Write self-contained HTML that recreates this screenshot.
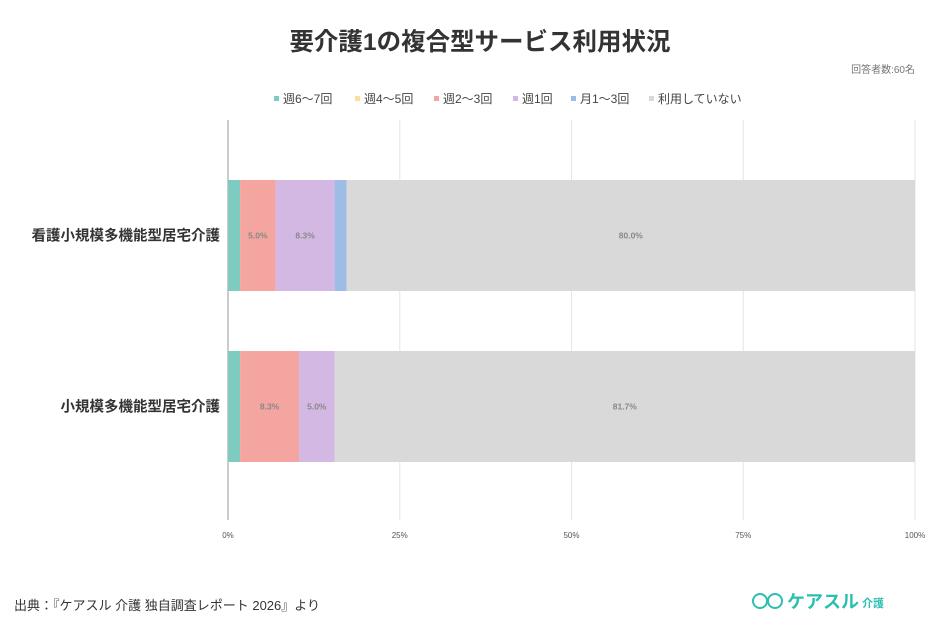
<!DOCTYPE html>
<html><head><meta charset="utf-8"><style>
body{margin:0;background:#fff;width:944px;height:627px;overflow:hidden;font-family:"Liberation Sans","Noto Sans CJK JP",sans-serif;}
svg text{font-family:"Liberation Sans","Noto Sans CJK JP",sans-serif;}
</style></head><body>
<svg id="c" width="944" height="627">
<text x="480" y="50" text-anchor="middle" font-size="24.5" font-weight="bold" fill="#333">要介護1の複合型サービス利用状況</text>
<text x="915" y="73" text-anchor="end" font-size="10" fill="#777">回答者数:60名</text>
<g id="legend"></g>
<g id="grid"></g>
<g id="bars"></g>
<text x="14" y="610" font-size="13" fill="#333">出典：『ケアスル 介護 独自調査レポート 2026』より</text>
<g>
<circle cx="760" cy="601" r="7" fill="none" stroke="#2bbfb0" stroke-width="2"/>
<circle cx="775" cy="601" r="7" fill="none" stroke="#2bbfb0" stroke-width="2"/>
<text x="787" y="608" font-size="18" font-weight="bold" fill="#2bbfb0">ケアスル</text>
<text x="862" y="607" font-size="11" font-weight="bold" fill="#2bbfb0">介護</text>
</g>
</svg>
<script>
const categories=["看護小規模多機能型居宅介護","小規模多機能型居宅介護"];
const seriesNames=["週6～7回","週4～5回","週2～3回","週1回","月1～3回","利用していない"];
const seriesColors=["#7ecbc0","#f8df9a","#f4a5a0","#d3b8e3","#9dbde6","#d9d9d9"];
const s1=[1.7,1.7];
const s2=[0,0];
const s3=[5.0,8.3];
const s4=[8.3,5.0];
const s5=[1.7,0];
const s6=[80.0,81.7];
const series=[s1,s2,s3,s4,s5,s6];
const ticks=[0,25,50,75,100];
const NS="http://www.w3.org/2000/svg";
const X0=228,X1=915;
const x=p=>X0+(X1-X0)*p/100;
const bandTop=[180,351],bandH=111;
function mk(t,a,p){const e=document.createElementNS(NS,t);for(const k in a)e.setAttribute(k,a[k]);p.appendChild(e);return e;}
const grid=document.getElementById('grid');
ticks.forEach(t=>{
 const l=mk('line',{x1:x(t),x2:x(t),y1:120,y2:520,stroke:t===0?'#999':'#e6e6e6','stroke-width':1},grid);
 
 
 const tx=mk('text',{x:x(t),y:538,'text-anchor':'middle','font-size':8,fill:'#555'},grid);
 tx.textContent=t+'%';
 
 
});
const bars=document.getElementById('bars');
categories.forEach((c,i)=>{
 const lab=mk('text',{x:220,y:bandTop[i]+bandH/2+5,'text-anchor':'end','font-size':14.5,'font-weight':'bold',fill:'#333'},bars);
 lab.textContent=c;
 
 
 const tot=series.reduce((a,s)=>a+s[i],0);
 let acc=0;
 series.forEach((s,j)=>{
  const v=s[i];if(!v)return;
  const p0=acc/tot*100;acc+=v;const p1=acc/tot*100;
  const r=mk('rect',{x:x(p0),y:bandTop[i],width:x(p1)-x(p0),height:bandH,fill:seriesColors[j]},bars);
  
  
  if(v>=5){
   const t=mk('text',{x:(x(p0)+x(p1))/2,y:bandTop[i]+bandH/2+3,'text-anchor':'middle','font-size':8.5,'font-weight':'bold',fill:'#888'},bars);
   t.textContent=v.toFixed(1)+'%';
   
   
  }
 });
});
const lg=document.getElementById('legend');
let lx=274;
const lw=[81,79,79,58,78,100];
seriesNames.forEach((n,j)=>{
 const r=mk('rect',{x:lx,y:96,width:5,height:5,fill:seriesColors[j]},lg);
 
 
 const t=mk('text',{x:lx+9,y:103,'font-size':12,fill:'#444'},lg);
 t.textContent=n;
 
 
 lx+=lw[j];
});
</script>
</body></html>
